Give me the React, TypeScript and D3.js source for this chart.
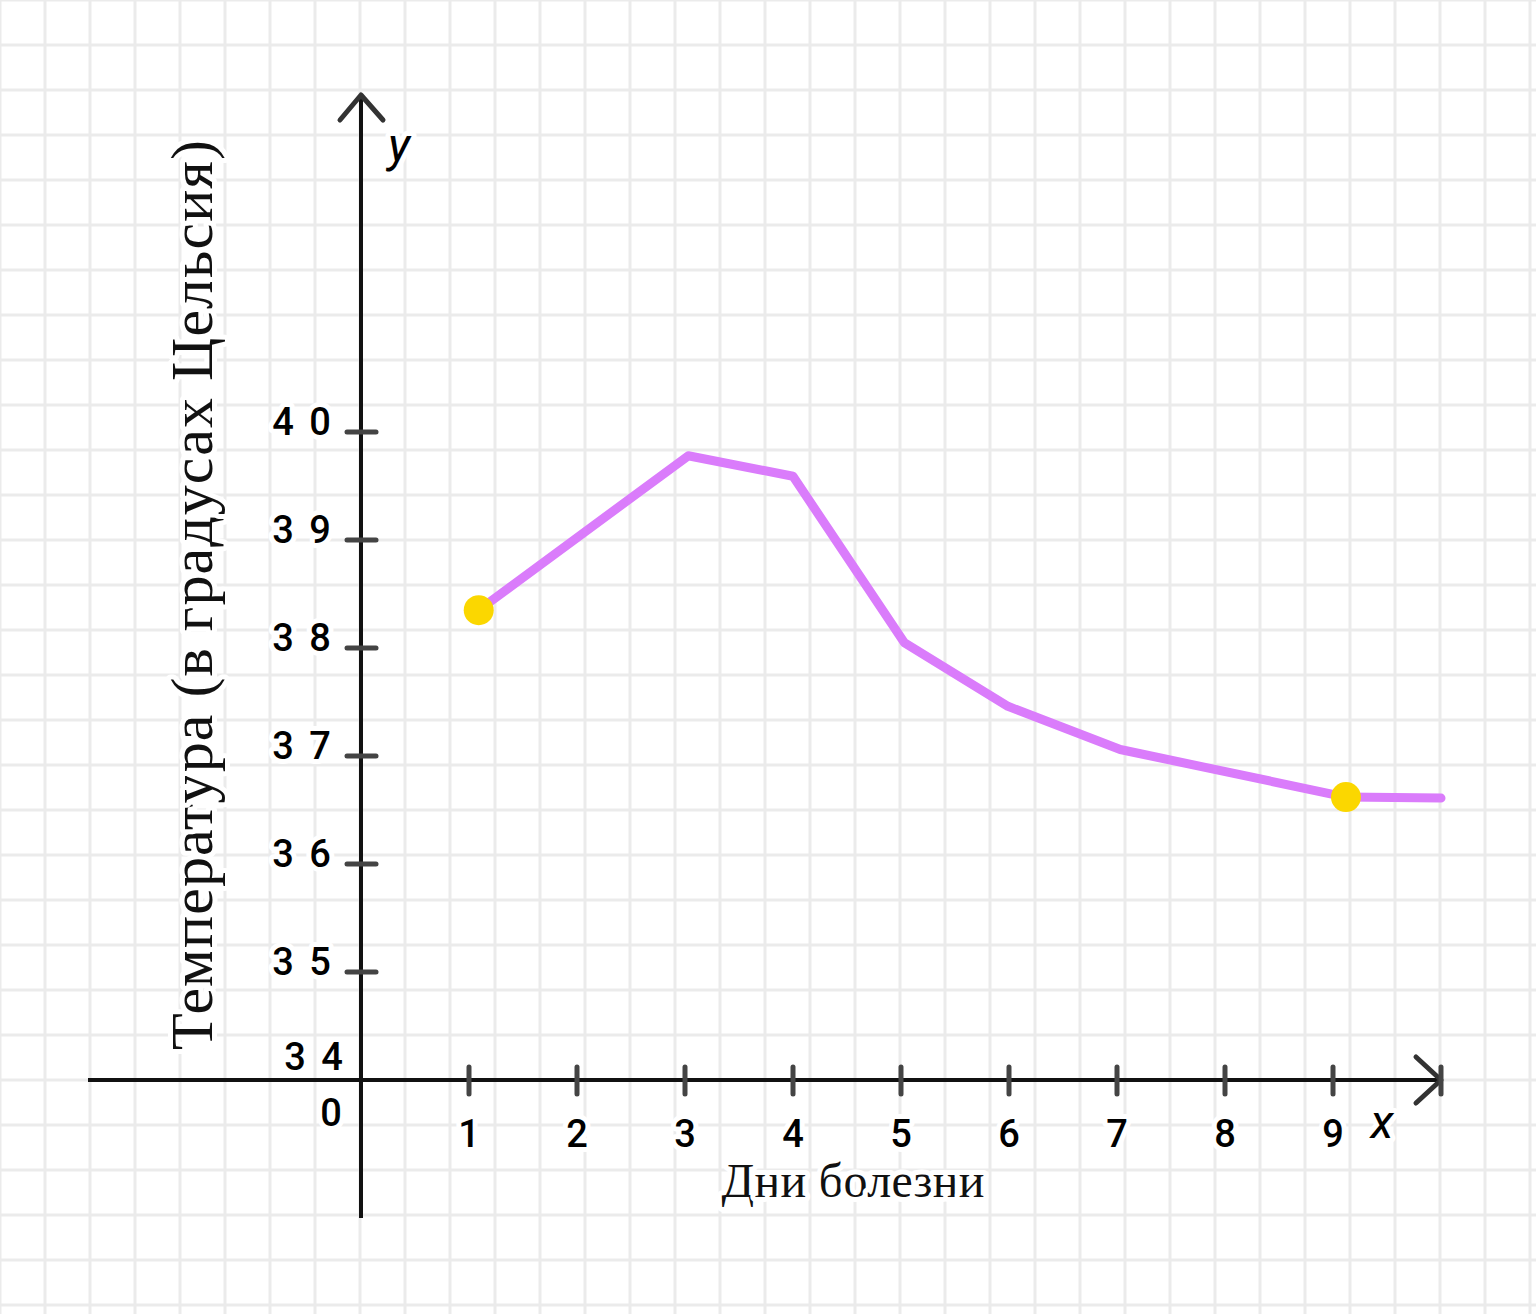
import React from "react";
import * as d3 from "d3";

const W = 1536;
const H = 1314;

// Data
const days = [1.09, 3.03, 4.0, 5.03, 5.99, 7.03, 9.12, 10.0];
const temps = [38.35, 39.78, 39.59, 38.05, 37.46, 37.06, 36.62, 36.61];
const markedDays = [1.09, 9.12];
const markedTemps = [38.35, 36.62];

const xTicks = [1, 2, 3, 4, 5, 6, 7, 8, 9, 10];
const xTickLabels = ["1", "2", "3", "4", "5", "6", "7", "8", "9"];
const yTicks = [35, 36, 37, 38, 39, 40];
const yTickLabels = ["3 4", "3 5", "3 6", "3 7", "3 8", "3 9", "4 0"];
const yLabelValues = [34, 35, 36, 37, 38, 39, 40];

const xTitle = "Дни болезни";
const yTitle = "Температура (в градусах Цельсия)";

export default function App() {
  const x = d3.scaleLinear().domain([0, 10]).range([361, 1441]);
  const y = d3.scaleLinear().domain([34, 40]).range([1080, 432]);

  const line = d3
    .line<number>()
    .x((_, i) => x(days[i]))
    .y((d) => y(d));

  const gridStep = 45;
  const vGrid = d3.range(0, W + 1, gridStep);
  const hGrid = d3.range(0, H + 1, gridStep);

  const halo = {
    paintOrder: "stroke" as const,
    stroke: "#fff",
    strokeWidth: 10,
    strokeLinejoin: "round" as const,
  };
  const numFont = "Roboto, 'Liberation Sans', Arial, sans-serif";
  const serif = "'Liberation Serif', 'DejaVu Serif', serif";

  return (
    <svg
      width={W}
      height={H}
      style={{ position: "absolute", left: 0, top: 0, background: "#fff" }}
    >
      <rect x={0} y={0} width={W} height={H} fill="#fff" />
      <g stroke="#ebebeb" strokeWidth={3}>
        {vGrid.map((gx) => (
          <line key={"v" + gx} x1={gx} x2={gx} y1={0} y2={H} />
        ))}
        {hGrid.map((gy) => (
          <line key={"h" + gy} x1={0} x2={W} y1={gy} y2={gy} />
        ))}
      </g>

      {/* axes */}
      <line x1={x(0)} x2={x(0)} y1={97} y2={1218} stroke="#111" strokeWidth={4} />
      <line x1={88} x2={x(10)} y1={y(34)} y2={y(34)} stroke="#111" strokeWidth={4} />

      {/* arrows */}
      <polyline
        points={`${x(0) - 21},120 ${x(0)},95 ${x(0) + 22},120`}
        fill="none"
        stroke="#333"
        strokeWidth={5}
        strokeLinecap="round"
        strokeLinejoin="round"
      />
      <polyline
        points={`${x(10) - 25},1057 ${x(10)},${y(34)} ${x(10) - 25},1103`}
        fill="none"
        stroke="#333"
        strokeWidth={5}
        strokeLinecap="round"
        strokeLinejoin="round"
      />

      {/* ticks */}
      <g stroke="#444" strokeWidth={5} strokeLinecap="round">
        {yTicks.map((t) => (
          <line key={"yt" + t} x1={x(0) - 14} x2={x(0) + 15} y1={y(t)} y2={y(t)} />
        ))}
        {xTicks.map((t) => (
          <line key={"xt" + t} x1={x(t)} x2={x(t)} y1={y(34) - 13} y2={y(34) + 14} />
        ))}
      </g>

      {/* tick labels */}
      <g fontFamily={numFont} fontWeight={500} fontSize={38} fill="#000" textAnchor="middle" style={halo}>
        {xTickLabels.map((l, i) => (
          <text key={"xl" + l} x={x(xTicks[i])} y={1147}>
            {l}
          </text>
        ))}
        {yLabelValues.map((v, i) => (
          <text
            key={"yl" + v}
            x={i === 0 ? 315 : 303}
            y={i === 0 ? y(v) - 10 : y(v) + 3}
            letterSpacing={3}
          >
            {yTickLabels[i]}
          </text>
        ))}
        <text x={331} y={1126}>0</text>
      </g>

      {/* axis letters */}
      <g fontFamily={numFont} fontSize={48} fontStyle="italic" fill="#000" textAnchor="middle" style={halo}>
        <text x={399} y={161}>y</text>
        <text x={1382} y={1138}>x</text>
      </g>

      {/* titles */}
      <text
        x={853}
        y={1197}
        fontFamily={serif}
        fontSize={48}
        textAnchor="middle"
        textLength={263}
        fill="#111"
        style={halo}
      >
        {xTitle}
      </text>
      <text
        transform={`translate(212, 595) rotate(-90)`}
        fontFamily={serif}
        fontSize={60}
        textAnchor="middle"
        textLength={910}
        fill="#111"
        style={halo}
      >
        {yTitle}
      </text>

      {/* data line */}
      <path
        d={line(temps) || ""}
        fill="none"
        stroke="#da7cfb"
        strokeWidth={9}
        strokeLinecap="round"
        strokeLinejoin="round"
      />
      {markedDays.map((d, i) => (
        <circle key={"m" + i} cx={x(d)} cy={y(markedTemps[i])} r={15} fill="#fbd700" />
      ))}
    </svg>
  );
}
